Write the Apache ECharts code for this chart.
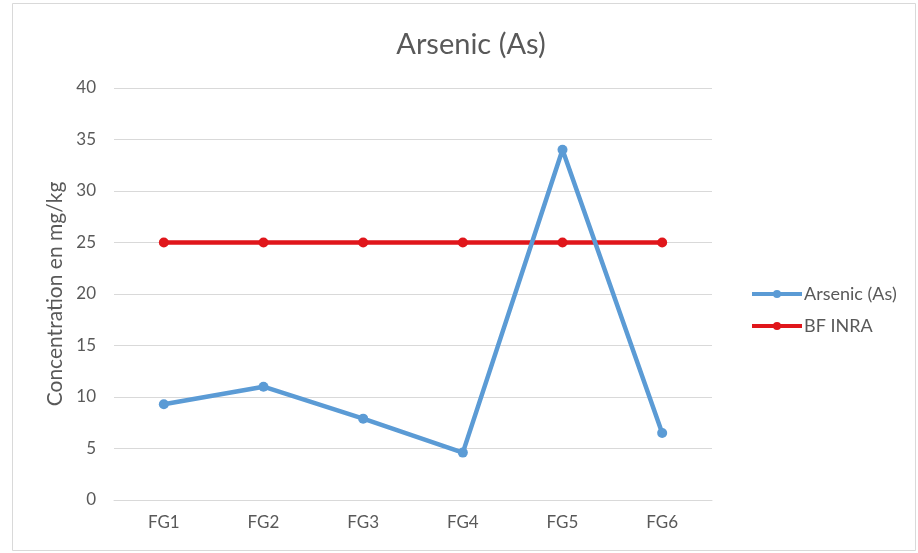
<!DOCTYPE html>
<html>
<head>
<meta charset="utf-8">
<script src="https://cdn.jsdelivr.net/npm/echarts@6/dist/echarts.min.js"></script>
<style>
  html, body { margin: 0; padding: 0; background: #fff; }
  #chart { width: 918px; height: 553px; }
</style>
</head>
<body>
<div id="chart"></div>
<script>
const categories = ['FG1', 'FG2', 'FG3', 'FG4', 'FG5', 'FG6'];
const arsenic = [9.3, 11.0, 7.9, 4.6, 34.0, 6.5];
const bfInra = [25, 25, 25, 25, 25, 25];

const textColor = '#595959';
const font = 'Lato, "Liberation Sans", sans-serif';

const chart = echarts.init(document.getElementById('chart'));

chart.setOption({
  animation: false,
  backgroundColor: '#fff',
  textStyle: { fontFamily: font },
  graphic: [{
    type: 'rect',
    shape: { x: 12.5, y: 3.5, width: 903, height: 547 },
    style: { fill: 'none', stroke: '#d9d9d9', lineWidth: 1 },
    silent: true
  }],
  title: {
    text: 'Arsenic (As)',
    left: 466,
    top: 25,
    textAlign: 'center',
    textStyle: { fontFamily: font, fontSize: 29, fontWeight: 'normal', color: textColor }
  },
  legend: {
    orient: 'vertical',
    left: 745,
    top: 280,
    itemWidth: 50,
    itemHeight: 10,
    itemGap: 14,
    lineStyle: { width: 4 },
    textStyle: { fontFamily: font, fontSize: 18, color: textColor, padding: [0, 0, 0, -3] },
    data: ['Arsenic (As)', 'BF INRA']
  },
  grid: { left: 114, right: 206, top: 88, bottom: 53 },
  xAxis: {
    type: 'category',
    data: categories,
    axisLine: { lineStyle: { color: '#d9d9d9' } },
    axisTick: { show: false },
    axisLabel: { color: textColor, fontSize: 17, margin: 14 }
  },
  yAxis: {
    type: 'value',
    min: 0,
    max: 40,
    interval: 5,
    name: 'Concentration en mg/kg',
    nameLocation: 'middle',
    nameGap: 46,
    nameTextStyle: { color: textColor, fontSize: 21, fontFamily: font },
    axisLine: { show: false },
    axisTick: { show: false },
    axisLabel: { color: textColor, fontSize: 17, margin: 18 },
    splitLine: { lineStyle: { color: '#d9d9d9' } }
  },
  series: [
    {
      name: 'Arsenic (As)',
      type: 'line',
      data: arsenic,
      symbol: 'circle',
      symbolSize: 10,
      color: '#5B9BD5',
      lineStyle: { width: 4.5, color: '#5B9BD5' },
      itemStyle: { color: '#5B9BD5' },
      z: 3
    },
    {
      name: 'BF INRA',
      type: 'line',
      data: bfInra,
      symbol: 'circle',
      symbolSize: 10,
      color: '#E0161B',
      lineStyle: { width: 4.5, color: '#E0161B' },
      itemStyle: { color: '#E0161B' },
      z: 2
    }
  ]
});
</script>
</body>
</html>
